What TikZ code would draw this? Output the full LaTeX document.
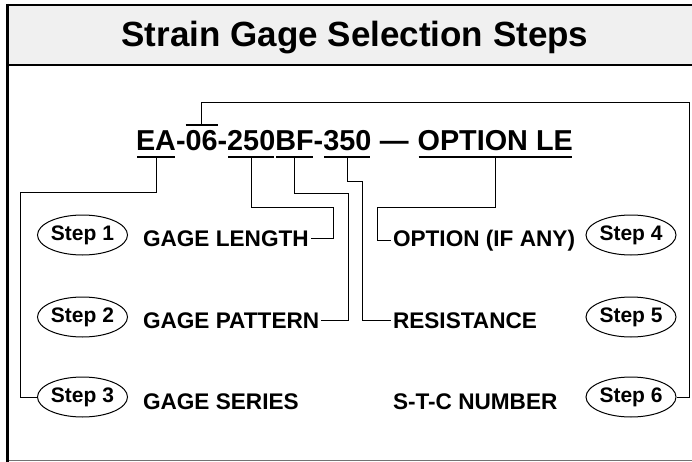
\documentclass[tikz,border=0pt]{standalone}
\usepackage{fontspec}
\setmainfont{Liberation Sans}
\usetikzlibrary{shapes.geometric,calc}
\begin{document}
\begin{tikzpicture}[x=1pt,y=-1pt,
  code/.style={inner sep=0pt, outer sep=0pt, anchor=base west, font=\fontsize{28.8}{30}\selectfont\bfseries},
  lbl/.style={inner sep=0pt, outer sep=0pt, anchor=base west, font=\fontsize{22.6}{24}\selectfont\bfseries},
  stepbox/.style={draw, ellipse, minimum width=90pt, minimum height=40pt, inner sep=0pt, line width=1pt, font=\fontsize{21}{23}\selectfont\bfseries},
  wire/.style={line width=0.9pt},
  uline/.style={line width=1.3pt}]
\useasboundingbox (0,0) rectangle (692,462);
% frame
\fill[black!6] (7.5,5) rectangle (700,65);
\draw[line width=2pt] (7.5,5) -- (700,5);
\draw[line width=2.5pt] (7.5,65) -- (700,65);
\draw[line width=1.2pt, black!55] (7.5,460.5) -- (700,460.5);
\draw[line width=3pt] (7.5,4) -- (7.5,461.5);
\node[font=\fontsize{35}{40}\selectfont\bfseries, anchor=base] (title) at (355,47) {Strain Gage Selection Steps};
% part code
\node[code] (ea) at (136,151) {EA};
\node[code] (d1) at (ea.base east) {-};
\node[code] (z6) at (d1.base east) {06};
\node[code] (d2) at (z6.base east) {-};
\node[code] (n250) at (d2.base east) {250};
\node[code] (bf) at (n250.base east) {BF};
\node[code] (d3) at (bf.base east) {-};
\node[code] (n350) at (d3.base east) {350};
\node[code] (dash) at (n350.base east) {\kern8.5pt—\kern9pt};
\node[code] (opt) at (dash.base east) {OPTION LE};
% under/over lines
\foreach \n in {ea,n250,bf,n350,opt}{
  \draw[uline] ($(\n.base west)+(1,6)$) -- ($(\n.base east)+(-1,6)$);
}
\draw[uline] ($(z6.base west)+(0,-26)$) -- ($(z6.base east)+(0,-26)$);
\coordinate (eaU) at ($(ea.base)+(0,6)$);
\coordinate (z6O) at ($(z6.base)+(0,-26)$);
\coordinate (n250U) at ($(n250.base)+(0,6)$);
\coordinate (bfU) at ($(bf.base)+(0,6)$);
\coordinate (n350U) at ($(n350.base)+(0,6)$);
\coordinate (optU) at ($(opt.base)+(0,6)$);
% labels
\node[lbl] (gl) at (143,246) {GAGE LENGTH};
\node[lbl] (gp) at (143,328) {GAGE PATTERN};
\node[lbl] (gs) at (143,409) {GAGE SERIES};
\node[lbl] (oia) at (393,246) {OPTION (IF ANY)};
\node[lbl] (res) at (393,328) {RESISTANCE};
\node[lbl] (stc) at (393,409) {S-T-C NUMBER};
% steps
\node[stepbox] (s1) at (82.5,235) {Step 1};
\node[stepbox] (s2) at (82.5,317) {Step 2};
\node[stepbox] (s3) at (82.5,397) {Step 3};
\node[stepbox] (s4) at (631,235) {Step 4};
\node[stepbox] (s5) at (631,317) {Step 5};
\node[stepbox] (s6) at (631,397) {Step 6};
% routing corners
\coordinate (k1) at (20,192);
\coordinate (k2) at (689,102);
\coordinate (k3) at (333,207);
\coordinate (k4) at (348,193);
\coordinate (k5) at (362,181);
\coordinate (k6) at (377,207);
% connectors
\draw[wire] (eaU) |- (k1) |- (s3.west);
\draw[wire] (z6O) |- (k2) |- (s6.east);
\draw[wire] (n250U) |- (k3) |- ([xshift=2pt]gl.east);
\draw[wire] (bfU) |- (k4) |- ([xshift=2pt]gp.east);
\draw[wire] (n350U) |- (k5) |- ([xshift=-2pt]res.west);
\draw[wire] (optU) |- (k6) |- ([xshift=-2pt]oia.west);
\end{tikzpicture}
\end{document}
